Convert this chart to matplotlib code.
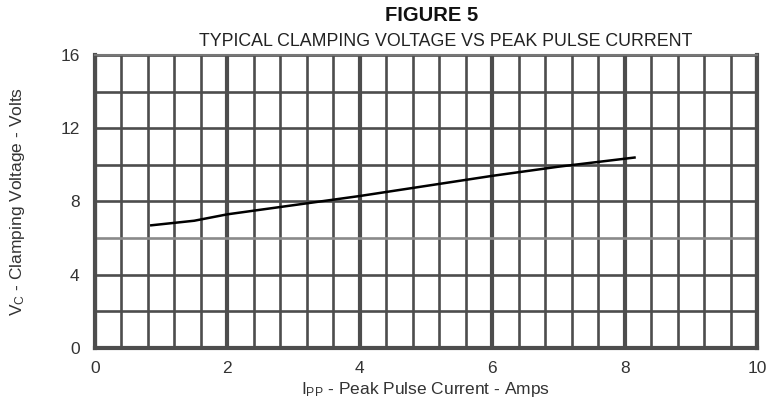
import matplotlib
matplotlib.use("Agg")
from matplotlib import pyplot as plt
import numpy as np

# data
current = [0.85, 1.5, 2.0, 3.0, 4.0, 5.0, 6.0, 7.0, 8.15]      # Ipp, Amps
voltage = [6.7, 6.95, 7.3, 7.8, 8.3, 8.85, 9.4, 9.9, 10.4]     # Vc, Volts

x_ticks = [0, 2, 4, 6, 8, 10]
y_ticks = [0, 4, 8, 12, 16]

plt.rcParams['font.family'] = ['Liberation Sans', 'DejaVu Sans']
plt.rcParams['mathtext.fontset'] = 'custom'
plt.rcParams['mathtext.rm'] = 'Liberation Sans'
plt.rcParams['mathtext.it'] = 'Liberation Sans'

fig = plt.figure(figsize=(7.8, 4.04), dpi=100)
ax = fig.add_axes([0.1218, 0.1386, 0.8487, 0.7253])

gridc = '#4d4d4d'
ax.set_xlim(0, 10)
ax.set_ylim(0, 16)
ax.set_xticks(x_ticks)
ax.set_xticks(np.arange(0, 10.01, 0.4), minor=True)
ax.set_yticks(y_ticks)
ax.set_yticks(np.arange(0, 16.01, 2), minor=True)

ax.grid(which='major', axis='x', color=gridc, linewidth=3.0)
ax.grid(which='minor', axis='x', color=gridc, linewidth=1.9)
ax.grid(which='both', axis='y', color=gridc, linewidth=1.9)
ax.set_axisbelow(True)

# the 6 V line prints lighter in the original
for t in ax.yaxis.get_minor_ticks():
    t.gridline.set_color(gridc)
ax.yaxis.get_minor_ticks()  # ensure created
for t, v in zip(ax.yaxis.get_minor_ticks(), ax.yaxis.get_minorticklocs()):
    if abs(v - 6) < 1e-6:
        t.gridline.set_color('#8a8a8a')

ax.tick_params(which='both', length=0, labelsize=12.5, labelcolor='#333333')
ax.tick_params(axis='x', pad=9)
ax.tick_params(axis='y', pad=11)

for side in ['left', 'bottom', 'right']:
    ax.spines[side].set_color(gridc)
    ax.spines[side].set_linewidth(3.0)
ax.spines['top'].set_color('#777777')
ax.spines['top'].set_linewidth(1.5)

ax.plot(current, voltage, color='black', linewidth=1.8)

ax.set_xlabel(r'I$_{\rm PP}$ - Peak Pulse Current - Amps', fontsize=12.5, color='#333333', labelpad=3)
ax.set_ylabel(r'V$_{\rm C}$ - Clamping Voltage - Volts', fontsize=12.5, color='#333333', labelpad=24)

fig.text(0.553, 0.962, 'FIGURE 5', ha='center', va='center', fontsize=14.5, fontweight='bold', color='#111111')
fig.text(0.571, 0.898, 'TYPICAL CLAMPING VOLTAGE VS PEAK PULSE CURRENT', ha='center', va='center',
         fontsize=12.8, color='#222222')

fig.savefig('out.png', dpi=100)
